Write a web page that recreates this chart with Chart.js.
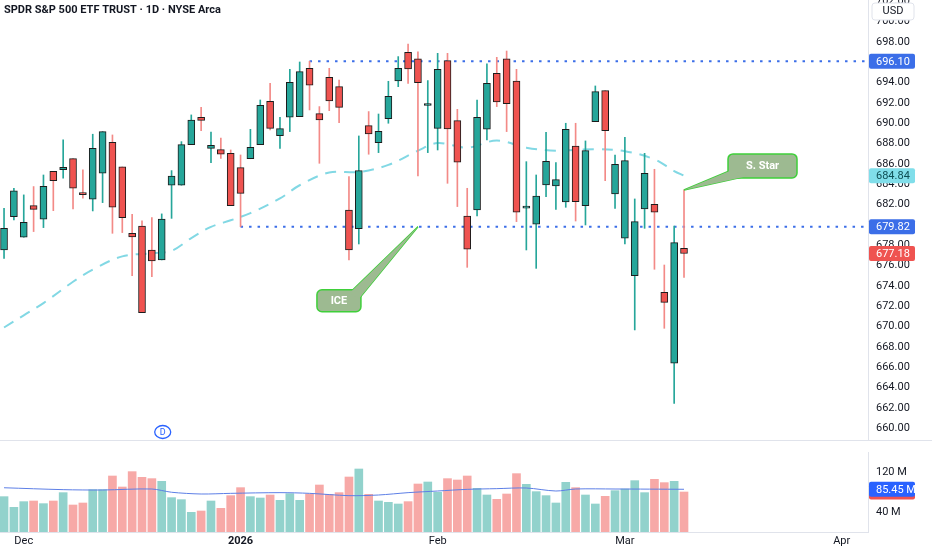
<!DOCTYPE html>
<html>
<head>
<meta charset="utf-8">
<script src="https://cdn.jsdelivr.net/npm/chart.js@4.4.1/dist/chart.umd.min.js"></script>
<style>
  html, body { margin: 0; padding: 0; background: #fff; }
  #wrap { position: relative; width: 932px; height: 550px; overflow: hidden; }
  #priceCanvas { position: absolute; left: 0; top: 0; }
  #volCanvas { position: absolute; left: 0; top: 441px; }
</style>
</head>
<body>
<div id="wrap">
  <canvas id="priceCanvas" width="932" height="441"></canvas>
  <canvas id="volCanvas" width="932" height="109"></canvas>
</div>
<script>
// SPY daily, one entry per trading day (index 0 = Nov 26 2025, index 69 = Mar 10 2026)
const opens = [677.53, 680.81, 678.78, 681.90, 680.55, 685.27, 685.44, 686.52, 683.14, 682.52,
  685.08, 688.13, 685.70, 679.17, 679.89, 677.53, 676.55, 683.90, 683.90, 687.90,
  690.59, 687.53, 687.40, 687.04, 685.63, 686.51, 687.90, 692.16, 688.78, 690.59,
  690.65, 695.41, 690.95, 694.52, 693.60, 681.46, 679.63, 689.76, 688.09, 690.45,
  694.16, 696.98, 696.33, 691.75, 689.50, 696.16, 690.26, 680.87, 681.46, 689.41,
  694.92, 696.33, 694.16, 681.65, 680.06, 683.93, 683.83, 682.25, 687.76, 681.89,
  690.16, 693.21, 683.04, 678.68, 675.00, 681.56, 682.03, 673.36, 666.38, 677.70];
const highs = [681.63, 683.60, 682.95, 683.77, 684.91, 685.27, 688.36, 686.52, 685.41, 688.92,
  689.18, 688.85, 685.70, 681.04, 680.39, 680.71, 681.08, 685.34, 688.19, 690.82,
  691.57, 689.14, 688.55, 687.37, 686.88, 689.40, 692.29, 693.93, 690.59, 695.31,
  696.03, 696.10, 691.64, 695.41, 694.26, 684.75, 688.75, 691.15, 690.91, 694.13,
  696.56, 697.80, 697.02, 694.20, 696.88, 696.88, 691.37, 683.60, 692.29, 695.84,
  696.49, 697.11, 695.31, 686.22, 684.91, 689.11, 686.12, 690.00, 690.00, 688.26,
  693.67, 693.21, 686.88, 688.62, 682.55, 687.04, 685.47, 676.05, 679.89, 683.44];
const lows = [676.71, 680.48, 678.78, 679.34, 679.73, 681.40, 684.59, 681.57, 682.62, 681.37,
  682.19, 679.17, 679.24, 675.01, 671.36, 674.91, 676.55, 680.64, 683.90, 687.90,
  689.27, 686.12, 686.55, 681.89, 679.82, 686.51, 687.90, 689.34, 687.53, 689.18,
  690.65, 691.31, 686.06, 691.24, 690.06, 676.55, 678.12, 686.95, 687.11, 690.00,
  693.60, 693.93, 684.81, 687.11, 687.37, 684.09, 681.80, 675.82, 680.87, 688.36,
  691.64, 689.18, 680.32, 677.53, 675.72, 682.78, 681.53, 681.73, 680.38, 679.99,
  690.16, 684.35, 681.63, 678.12, 669.66, 679.66, 675.63, 669.82, 662.44, 674.84];
const closes = [679.66, 683.34, 680.26, 681.53, 683.80, 684.36, 685.67, 683.60, 682.98, 687.54,
  689.18, 681.73, 680.71, 678.81, 671.36, 676.45, 680.58, 684.81, 687.90, 690.32,
  690.29, 687.83, 686.95, 681.89, 683.10, 687.63, 691.77, 689.50, 689.47, 694.03,
  695.08, 693.74, 690.32, 692.20, 691.57, 677.53, 685.34, 688.94, 689.21, 692.65,
  695.41, 695.34, 694.00, 691.90, 695.31, 689.44, 686.16, 677.60, 690.59, 693.93,
  692.10, 691.93, 681.24, 681.80, 682.84, 686.26, 684.45, 689.41, 682.28, 687.30,
  693.11, 689.27, 685.96, 686.32, 680.32, 685.07, 681.24, 672.38, 678.25, 677.18];
// volume, millions of shares
const volumes = [70.7, 49.3, 60.7, 62, 56.7, 62, 78.7, 54, 58, 84.7,
  84.7, 112, 90, 120.7, 109.3, 106.7, 101.3, 68.7, 64.7, 39.3,
  42, 62, 47.3, 72.7, 88.7, 70.7, 68, 74, 63.3, 76.7,
  63.3, 76, 94, 75.3, 78.7, 110, 126, 75.3, 62, 59.3,
  56, 60.7, 96, 100, 79.3, 106.7, 104, 112, 87.3, 74,
  65.3, 76, 116.7, 95.3, 80.7, 72.7, 58, 99.3, 88.7, 74,
  56, 71.3, 82.7, 86, 102.7, 78.7, 105.3, 98.7, 101.3, 80];

const maIdx = [0, 2, 4, 7, 9, 12, 15, 17, 19, 21, 23, 25, 28, 30, 33, 36, 39, 42, 44, 47, 50, 53, 56, 60, 63, 66, 68, 69];
const maVal = [669.9, 671.1, 672.3, 674.4, 675.6, 676.9, 677.2, 677.45, 678.7, 679.8, 680.45, 681.15, 682.6, 683.9,
  685.15, 685.2, 685.9, 687.3, 688.05, 687.6, 688.3, 687.6, 687.3, 687.45, 687.25, 686.45, 685.3, 684.84];
// volume moving average
const volMaIdx = [0, 6, 10, 15, 17, 20, 23, 28, 31, 35, 38, 41, 44, 47, 50, 53, 56, 58, 62, 69];
const volMaVal = [88.5, 84.7, 84, 86, 79.5, 76, 77.3, 78.7, 77.3, 72.7, 74, 78.7, 82, 85.3, 86.7, 88, 82, 86, 86, 85.45];

// time axis
const tickIdx = [2, 24, 44, 63, 85];
const tickLbl = ['Dec', '2026', 'Feb', 'Mar', 'Apr'];

// horizontal levels and where they start
const levels = [696.10, 679.82];
const levelStart = [31, 24];

const dividendIdx = 16;
const lastVolMa = 85.45;

// ---- style ----
const UP = '#26a69a', DOWN = '#ef5350';
const UP_WICK = '#26a69a', DOWN_WICK = '#f38a87';
const UP_VOL = '#92d2cc', DOWN_VOL = '#f7a9a7';
const LEVEL_BLUE = '#3b6ee8';
const xMin = -0.41, xMax = 87.67;
const FONT = 'Roboto, "Noto Sans", sans-serif';

Chart.defaults.font.family = FONT;
Chart.defaults.font.size = 11;
Chart.defaults.color = '#131722';

const isUp = i => closes[i] >= opens[i];

function fixAxis(w) {
  return function (scale) {
    scale.width = w;
    scale.paddingTop = 0;
    scale.paddingBottom = 0;
  };
}

function rrect(ctx, x, y, w, h, r) {
  ctx.beginPath();
  ctx.moveTo(x + r, y);
  ctx.arcTo(x + w, y, x + w, y + h, r);
  ctx.arcTo(x + w, y + h, x, y + h, r);
  ctx.arcTo(x, y + h, x, y, r);
  ctx.arcTo(x, y, x + w, y, r);
  ctx.closePath();
}

function axisTag(ctx, area, y, text, bg, fg) {
  ctx.fillStyle = bg;
  rrect(ctx, area.right + 1, y - 7.5, 46, 15, 2);
  ctx.fill();
  ctx.fillStyle = fg;
  ctx.font = '11px ' + FONT;
  ctx.textAlign = 'left';
  ctx.textBaseline = 'middle';
  ctx.fillText(text, area.right + 8, y + 0.5);
}

// callouts: tip in data space, box and wedge base as offsets from the tip
const notes = [
  { text: 'S. Star', tipX: 69, tipY: 683.44, box: [44, -36, 69, 24], base: [[48, -20], [64, -14]] },
  { text: 'ICE', tipX: 42, tipY: 679.82, box: [-101, 63, 44, 22], base: [[-68, 66], [-59, 72]] }
];

function drawNote(ctx, sx, sy, n) {
  const tx = sx.getPixelForValue(n.tipX), ty = sy.getPixelForValue(n.tipY);
  const fill = '#9dba91', edge = '#3fcf3a';
  ctx.save();
  ctx.lineWidth = 1.5;
  ctx.strokeStyle = edge;
  ctx.fillStyle = fill;
  const wedge = () => {
    ctx.beginPath();
    ctx.moveTo(tx, ty);
    ctx.lineTo(tx + n.base[0][0], ty + n.base[0][1]);
    ctx.lineTo(tx + n.base[1][0], ty + n.base[1][1]);
    ctx.closePath();
  };
  wedge(); ctx.fill(); ctx.stroke();
  const [bx, by, bw, bh] = n.box;
  rrect(ctx, tx + bx, ty + by, bw, bh, 5);
  ctx.fill(); ctx.stroke();
  wedge(); ctx.fill();
  ctx.fillStyle = '#ffffff';
  ctx.font = 'bold 11px ' + FONT;
  ctx.textAlign = 'center';
  ctx.textBaseline = 'middle';
  ctx.fillText(n.text, tx + bx + bw / 2, ty + by + bh / 2 + 0.5);
  ctx.restore();
}

const pricePlugin = {
  id: 'priceExtras',
  afterDraw(chart) {
    const ctx = chart.ctx, area = chart.chartArea;
    const sx = chart.scales.x, sy = chart.scales.y;
    ctx.save();
    // pane separator
    ctx.strokeStyle = '#e0e3eb';
    ctx.lineWidth = 1;
    ctx.beginPath();
    ctx.moveTo(0, area.bottom - 0.5);
    ctx.lineTo(chart.width, area.bottom - 0.5);
    ctx.stroke();

    // title
    ctx.fillStyle = '#131722';
    ctx.font = 'bold 11px ' + FONT;
    ctx.textAlign = 'left';
    ctx.textBaseline = 'middle';
    ctx.fillText('SPDR S&P 500 ETF TRUST \u00b7 1D \u00b7 NYSE Arca', 4, 10);

    // currency box
    ctx.fillStyle = '#ffffff';
    rrect(ctx, area.right + 4, 3, 42, 17, 3);
    ctx.fill();
    ctx.strokeStyle = '#e0e3eb';
    ctx.stroke();
    ctx.fillStyle = '#131722';
    ctx.font = '11px ' + FONT;
    ctx.textAlign = 'center';
    ctx.fillText('USD', area.right + 25, 11.5);

    // axis tags
    axisTag(ctx, area, sy.getPixelForValue(levels[0]), levels[0].toFixed(2), LEVEL_BLUE, '#ffffff');
    axisTag(ctx, area, sy.getPixelForValue(maVal[maVal.length - 1]), maVal[maVal.length - 1].toFixed(2), '#80deea', '#0e4f55');
    axisTag(ctx, area, sy.getPixelForValue(levels[1]), levels[1].toFixed(2), LEVEL_BLUE, '#ffffff');
    const last = closes[closes.length - 1];
    axisTag(ctx, area, sy.getPixelForValue(last), last.toFixed(2), DOWN, '#ffffff');

    // dividend marker
    const dx = sx.getPixelForValue(dividendIdx) + 1, dy = area.bottom - 9;
    ctx.fillStyle = '#ffffff';
    ctx.strokeStyle = '#2962ff';
    ctx.lineWidth = 1.3;
    ctx.beginPath();
    ctx.ellipse(dx, dy, 8, 6.5, 0, 0, Math.PI * 2);
    ctx.fill(); ctx.stroke();
    ctx.fillStyle = '#2962ff';
    ctx.font = '9px ' + FONT;
    ctx.textAlign = 'center';
    ctx.fillText('D', dx, dy + 0.5);
    ctx.restore();

    notes.forEach(n => drawNote(ctx, sx, sy, n));
  }
};

new Chart(document.getElementById('priceCanvas'), {
  type: 'bar',
  data: {
    datasets: [
      {
        type: 'line',
        data: maIdx.map((x, k) => ({ x: x, y: maVal[k] })),
        borderColor: '#82d8e4', borderWidth: 2, borderDash: [11, 8],
        pointRadius: 0, tension: 0.35, order: 5
      },
      ...levels.map((lv, k) => ({
        type: 'line',
        data: [{ x: levelStart[k], y: lv }, { x: xMax, y: lv }],
        borderColor: LEVEL_BLUE, borderWidth: 2, borderDash: [2.5, 6],
        pointRadius: 0, order: 4
      })),
      {
        data: opens.map((o, i) => ({ x: i, y: [lows[i], highs[i]] })),
        backgroundColor: opens.map((o, i) => isUp(i) ? UP_WICK : DOWN_WICK),
        borderWidth: 0, barThickness: 1, grouped: false, order: 2
      },
      {
        data: opens.map((o, i) => ({ x: i, y: [o, closes[i]] })),
        backgroundColor: opens.map((o, i) => isUp(i) ? UP : DOWN),
        borderColor: '#1c1c1c', borderWidth: 1, borderSkipped: false,
        barThickness: 7, minBarLength: 2, grouped: false, order: 1
      }
    ]
  },
  options: {
    responsive: false,
    animation: false,
    layout: { padding: 0 },
    plugins: { legend: { display: false }, tooltip: { enabled: false } },
    scales: {
      x: { type: 'linear', min: xMin, max: xMax, offset: false, display: false },
      y: {
        position: 'right', min: 658.73, max: 702.13,
        afterFit: fixAxis(64),
        grid: { display: false, drawTicks: false },
        border: { display: true, color: '#e0e3eb' },
        ticks: { stepSize: 2, includeBounds: false, padding: 8, color: '#131722', callback: v => v.toFixed(2) }
      }
    }
  },
  plugins: [pricePlugin]
});

const volPlugin = {
  id: 'volExtras',
  afterDraw(chart) {
    const ctx = chart.ctx, area = chart.chartArea, sy = chart.scales.y;
    ctx.save();
    axisTag(ctx, area, sy.getPixelForValue(volumes[volumes.length - 1]), '80.00 M', DOWN, '#ffffff');
    axisTag(ctx, area, sy.getPixelForValue(lastVolMa), lastVolMa.toFixed(2) + ' M', '#2962ff', '#ffffff');
    ctx.restore();
  }
};

new Chart(document.getElementById('volCanvas'), {
  type: 'bar',
  data: {
    datasets: [
      {
        type: 'line',
        data: volMaIdx.map((x, k) => ({ x: x, y: volMaVal[k] })),
        borderColor: '#5d7fe6', borderWidth: 1, pointRadius: 0, tension: 0.3, order: 0
      },
      {
        data: volumes.map((v, i) => ({ x: i, y: v })),
        backgroundColor: volumes.map((v, i) => isUp(i) ? UP_VOL : DOWN_VOL),
        borderWidth: 0, barThickness: 8, grouped: false, order: 1
      }
    ]
  },
  options: {
    responsive: false,
    animation: false,
    layout: { padding: { top: 11 } },
    plugins: { legend: { display: false }, tooltip: { enabled: false } },
    scales: {
      x: {
        type: 'linear', min: xMin, max: xMax, offset: false,
        afterBuildTicks: s => { s.ticks = tickIdx.map(v => ({ value: v })); },
        afterFit: s => { s.height = 18; s.paddingLeft = 0; s.paddingRight = 0; },
        grid: { display: false, drawTicks: false },
        border: { display: true, color: '#e0e3eb' },
        ticks: {
          autoSkip: false, maxRotation: 0, padding: 3, color: '#131722',
          callback: v => tickLbl[tickIdx.indexOf(v)],
          font: c => ({ size: 11, weight: (c.tick && c.tick.value === 24) ? 'bold' : 'normal' })
        }
      },
      y: {
        position: 'right', min: 0, max: 160,
        afterFit: fixAxis(64),
        grid: { display: false, drawTicks: false },
        border: { display: true, color: '#e0e3eb' },
        ticks: { stepSize: 40, padding: 8, color: '#131722', callback: v => (v === 40 || v === 120) ? v + ' M' : '' }
      }
    }
  },
  plugins: [volPlugin]
});
</script>
</body>
</html>
